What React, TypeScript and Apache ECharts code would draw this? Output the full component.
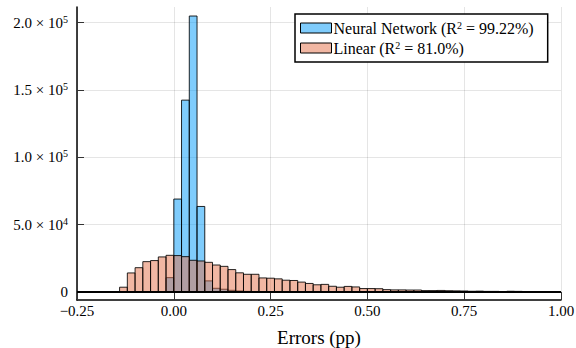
import React, { useEffect, useRef } from "react";
import * as echarts from "echarts";

const binWidth = 0.02;

const linearBinStarts = [
  -0.14, -0.12, -0.1, -0.08, -0.06, -0.04, -0.02, 0.0, 0.02, 0.04, 0.06, 0.08, 0.1, 0.12, 0.14, 0.16,
  0.18, 0.2, 0.22, 0.24, 0.26, 0.28, 0.3, 0.32, 0.34, 0.36, 0.38, 0.4, 0.42, 0.44, 0.46, 0.48, 0.5,
  0.52, 0.54, 0.56, 0.58, 0.6, 0.62, 0.64, 0.66, 0.68, 0.7, 0.72, 0.74, 0.76, 0.78, 0.8, 0.82, 0.84,
  0.86, 0.88, 0.9, 0.92, 0.94, 0.96, 0.98,
];
const linearCounts = [
  3500, 14100, 18000, 22500, 23300, 26000, 27200, 27000, 26200, 23500, 23000, 22000, 20000, 19000,
  16600, 14200, 13100, 13100, 10400, 10200, 9700, 8700, 8500, 7300, 6300, 5300, 5600, 4200, 3500,
  4100, 3700, 2500, 2500, 2400, 1700, 1500, 1500, 1400, 1400, 1000, 1000, 1100, 900, 800, 700, 500,
  600, 400, 400, 300, 500, 400, 300, 200, 200, 100, 100,
];

const nnBinStarts = [-0.04, -0.02, 0.0, 0.02, 0.04, 0.06, 0.08, 0.1, 0.12, 0.14, 0.16, 0.18, 0.2, 0.22];
const nnCounts = [300, 10600, 69000, 142500, 205000, 63500, 8200, 2700, 2000, 1200, 700, 400, 200, 100];

const yTicks = [0, 50000, 100000, 150000, 200000];

const FONT = "Liberation Serif";

function yLabel(v: number): string {
  if (v === 0) return "0";
  const exp = Math.floor(Math.log10(v));
  const mant = v / Math.pow(10, exp);
  return `${mant.toFixed(1)} × 10{sup|${exp}}`;
}

function xLabel(v: number): string {
  const s = Math.abs(v).toFixed(2);
  return v < 0 ? "−" + s : s;
}

function makeSeries(name: string, starts: number[], counts: number[], fill: string) {
  const data = starts.map((s, i) => [s, s + binWidth, counts[i]]);
  return {
    name,
    type: "custom",
    data,
    encode: { x: [0, 1], y: 2 },
    itemStyle: { color: fill, borderColor: "#000", borderWidth: 1 },
    renderItem: (params: any, api: any) => {
      const p0 = api.coord([api.value(0), 0]);
      const p1 = api.coord([api.value(1), api.value(2)]);
      return {
        type: "rect",
        shape: { x: p0[0], y: p1[1], width: p1[0] - p0[0], height: p0[1] - p1[1] },
        style: { fill, stroke: "rgba(0,0,0,0.85)", lineWidth: 1 },
      };
    },
  };
}

export default function App() {
  const ref = useRef<HTMLDivElement>(null);
  useEffect(() => {
    if (!ref.current) return;
    const chart = echarts.init(ref.current, null, { renderer: "svg" });
    const nn = makeSeries("Neural Network", nnBinStarts, nnCounts, "rgba(0,154,250,0.5)");
    const lin = makeSeries("Linear", linearBinStarts, linearCounts, "rgba(227,111,71,0.5)");
    (lin as any).markLine = {
      silent: true,
      symbol: "none",
      label: { show: false },
      lineStyle: { color: "#000", width: 2, type: "solid" },
      data: [{ yAxis: 0 }],
    };
    chart.setOption({
      animation: false,
      backgroundColor: "#fff",
      textStyle: { fontFamily: FONT },
      grid: {
        left: 77,
        right: 15,
        top: 7,
        bottom: 48,
        containLabel: false,
        outerBoundsMode: "none",
      },
      legend: {
        orient: "vertical",
        left: 295,
        top: 14,
        padding: [6, 14, 6, 5],
        itemGap: 4,
        itemWidth: 31,
        itemHeight: 10,
        icon: "rect",
        backgroundColor: "#fff",
        borderColor: "#000",
        borderWidth: 1.5,
        borderRadius: 0,
        itemStyle: { borderColor: "#000", borderWidth: 1 },
        textStyle: {
          fontFamily: FONT,
          fontSize: 16,
          color: "#000",
          padding: [0, 0, 0, -3],
          rich: {
            sup: { fontFamily: FONT, fontSize: 10, verticalAlign: "top", lineHeight: 16 },
          },
        },
        formatter: (name: string) =>
          name === "Neural Network"
            ? "Neural Network (R{sup|2} = 99.22%)"
            : "Linear (R{sup|2} = 81.0%)",
        data: ["Neural Network", "Linear"],
      },
      xAxis: {
        type: "value",
        min: -0.25,
        max: 1.0,
        interval: 0.25,
        name: "Errors (pp)",
        nameLocation: "middle",
        nameGap: 28,
        nameTextStyle: { fontFamily: FONT, fontSize: 19, color: "#000" },
        axisLine: { show: true, onZero: false, lineStyle: { color: "#000", width: 1.5 } },
        axisTick: { show: true, inside: true, length: 8, lineStyle: { color: "#333", width: 1 } },
        axisLabel: {
          fontFamily: FONT,
          fontSize: 15,
          color: "#000",
          margin: 3,
          formatter: (v: number) => xLabel(v),
        },
        splitLine: { show: true, lineStyle: { color: "rgba(0,0,0,0.1)", width: 1 } },
      },
      yAxis: {
        type: "value",
        min: -6000,
        max: 211700,
        axisLine: { show: true, onZero: false, lineStyle: { color: "#000", width: 1.5 } },
        axisTick: {
          show: true,
          inside: true,
          length: 7,
          customValues: yTicks,
          lineStyle: { color: "#333", width: 1 },
        },
        axisLabel: {
          fontFamily: FONT,
          fontSize: 15,
          color: "#000",
          margin: 9,
          customValues: yTicks,
          formatter: (v: number) => yLabel(v),
          rich: {
            sup: { fontFamily: FONT, fontSize: 10, verticalAlign: "top", lineHeight: 17 },
          },
        },
        splitLine: { show: true, lineStyle: { color: "rgba(0,0,0,0.1)", width: 1 } },
      },
      series: [nn, lin],
    });
    return () => chart.dispose();
  }, []);
  return (
    <div
      ref={ref}
      style={{ position: "fixed", left: 0, top: 0, width: 576, height: 348 }}
    />
  );
}
